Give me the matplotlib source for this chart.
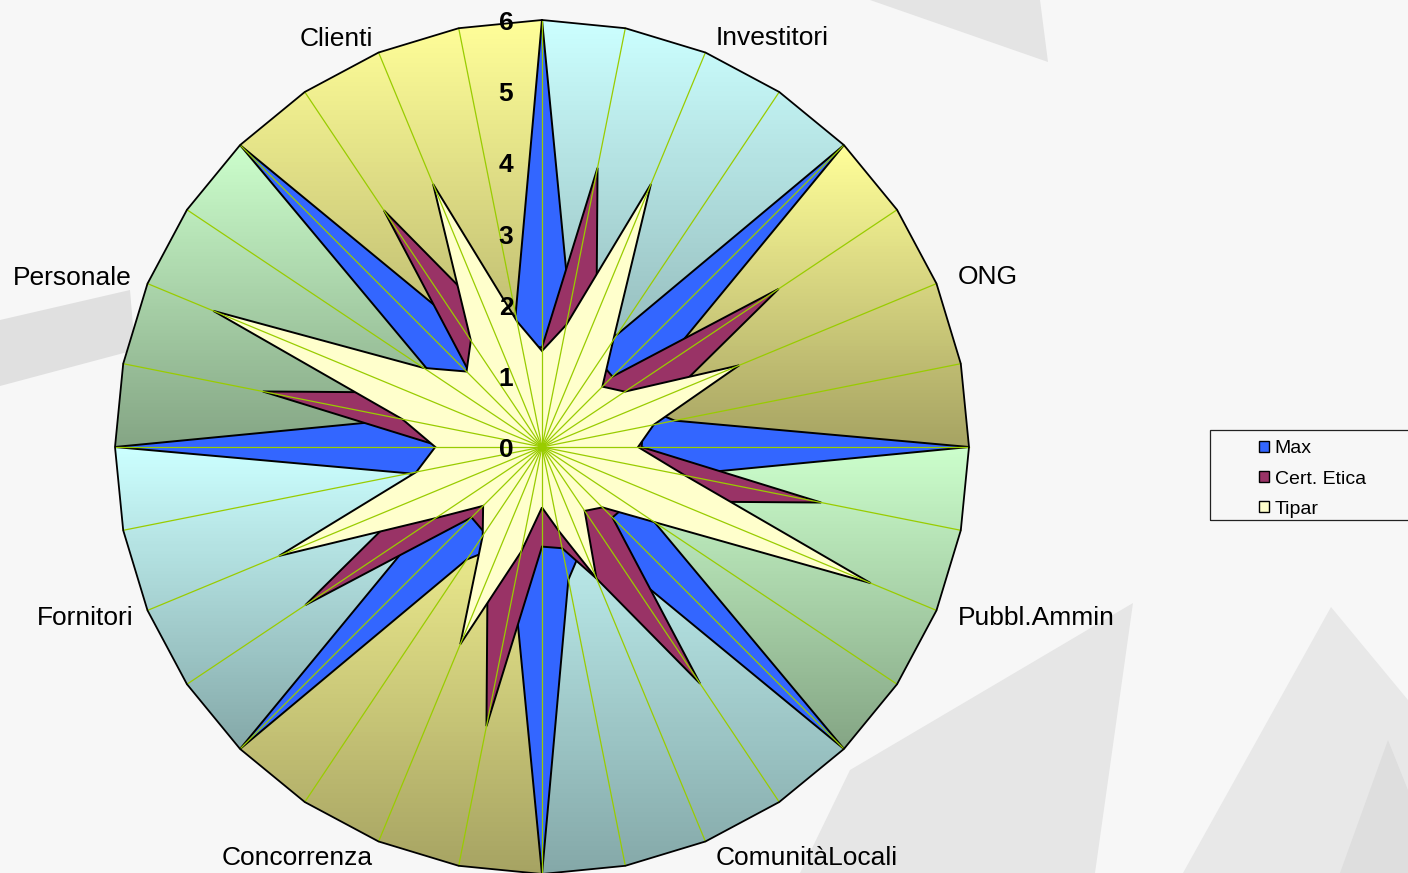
import numpy as np
import matplotlib.pyplot as plt
from matplotlib.patches import Polygon, Rectangle, Patch
from matplotlib.collections import PolyCollection
from matplotlib.colors import to_rgb

plt.rcParams['font.family'] = ['Liberation Sans', 'DejaVu Sans']

# 32 spokes, only every 4th one (from spoke 2) carries a stakeholder name
stakeholders = ['Investitori', 'ONG', 'Pubbl.Ammin', 'ComunitàLocali',
                'Concorrenza', 'Fornitori', 'Personale', 'Clienti']
categories = [''] * 32
for i, s in enumerate(stakeholders):
    categories[4 * i + 2] = s

max_vals = [6, 2.0, 1.5, 1.9, 6, 2.0, 1.5, 1.9,
            6, 2.0, 1.5, 1.9, 6, 2.0, 1.5, 1.9,
            6, 2.0, 1.5, 1.9, 6, 2.0, 1.5, 1.9,
            6, 2.0, 1.5, 1.9, 6, 2.0, 1.5, 1.9]
cert_vals = [1.4, 4, 2.0, 1.45, 1.4, 4, 2.0, 1.45,
             1.4, 4, 2.0, 1.45, 1.4, 4, 2.0, 1.45,
             1.4, 4, 2.0, 1.45, 1.4, 4, 2.0, 1.45,
             1.4, 4, 2.0, 1.45, 1.4, 4, 2.0, 1.45]
tipar_vals = [1.35, 1.75, 4, 1.8, 1.2, 1.4, 3, 1.6,
              1.35, 2.05, 5, 1.9, 1.2, 1.08, 2, 1.2,
              0.85, 1.5, 3, 1.5, 1.17, 1.8, 4, 1.8,
              1.5, 2.0, 5, 2.0, 1.5, 1.8, 4, 1.8]

series = [('Max', max_vals, '#3366FF'),
          ('Cert. Etica', cert_vals, '#993366'),
          ('Tipar', tipar_vals, '#FFFFCC')]

# background bands (value 6 over 4 spokes each) with vertical gradient
band_values = [6] * 8
band_kind = ['cyan', 'yellow', 'green', 'cyan', 'yellow', 'cyan', 'green', 'yellow']
gradients = {'cyan': ('#CCFFFF', '#84A8A8'),
             'yellow': ('#FFFF99', '#A6A262'),
             'green': ('#CCFFCC', '#84A484')}

fig = plt.figure(figsize=(14.08, 8.73), dpi=100, facecolor='#F7F7F7')

# slide background shapes (pixel coords from top-left)
def px(pts):
    return [(x / 1408, 1 - y / 873) for x, y in pts]

bg_shapes = [
    ([(870, 0), (1040, 0), (1048, 62)], '#E4E4E4'),
    ([(0, 320), (130, 290), (135, 350), (0, 386)], '#E0E0E0'),
    ([(800, 873), (850, 770), (1133, 603), (1095, 873)], '#E6E6E6'),
    ([(1183, 873), (1331, 607), (1408, 700), (1408, 873)], '#E8E8E8'),
    ([(1340, 873), (1388, 740), (1408, 790), (1408, 873)], '#DEDEDE'),
]
for pts, col in bg_shapes:
    fig.add_artist(Polygon(px(pts), closed=True, transform=fig.transFigure,
                           facecolor=col, edgecolor='none', zorder=-5))

ax = fig.add_axes([115 / 1408, -1 / 873, 854 / 1408, 854 / 873], projection='polar')
ax.set_theta_zero_location('N')
ax.set_theta_direction(-1)
ax.set_ylim(0, 6)
ax.patch.set_alpha(0)
ax.spines['polar'].set_visible(False)
ax.set_xticks([])
ax.set_yticks([])
ax.grid(False)

theta = np.arange(32) * 2 * np.pi / 32
th_c = np.append(theta, theta[0])

# gradient sectors
to_axes = ax.transData + ax.transAxes.inverted()
for g, kind in enumerate(band_kind):
    idx = [(4 * g + k) % 32 for k in range(5)]
    th = np.concatenate([[0], theta[idx]])
    rr = np.concatenate([[0], [band_values[g]] * 5])
    clip = ax.fill(th, rr, facecolor='none', edgecolor='none', zorder=1, clip_on=False)[0]
    xy = to_axes.transform(np.column_stack([th, rr]))
    x0, x1 = xy[:, 0].min(), xy[:, 0].max()
    y0, y1 = xy[:, 1].min(), xy[:, 1].max()
    top, bot = np.array(to_rgb(gradients[kind][0])), np.array(to_rgb(gradients[kind][1]))
    n = 90
    ys = np.linspace(y1, y0, n + 1)
    verts, cols = [], []
    for j in range(n):
        f = (j + 0.5) / n
        verts.append([(x0, ys[j]), (x1, ys[j]), (x1, ys[j + 1] - 0.002), (x0, ys[j + 1] - 0.002)])
        cols.append(top + (bot - top) * f)
    pc = PolyCollection(verts, facecolors=cols, edgecolors='none', linewidths=0,
                        transform=ax.transAxes, zorder=1)
    pc.set_clip_path(clip)
    ax.add_collection(pc, autolim=False)

# series
for z, (name, vals, col) in enumerate(series):
    ax.fill(th_c, np.append(vals, vals[0]), facecolor=col, edgecolor='black',
            linewidth=1.4, zorder=3 + z, clip_on=False)

# spokes and outline
for t in theta:
    ax.plot([t, t], [0, 6], color='#99CC00', linewidth=0.9, zorder=7, clip_on=False)
ax.plot([0], [0], 'o', color='#99CC00', markersize=5, zorder=7)
ax.plot(th_c, [6] * 33, color='black', linewidth=1.3, zorder=8, clip_on=False)

# value labels
for k in range(7):
    ax.annotate(str(k), xy=(0, k), xytext=(-36, -3), textcoords='offset pixels',
                ha='center', va='center', fontsize=19, fontweight='bold',
                zorder=9, annotation_clip=False)

# category labels
label_offsets = [(10, 15), (21, 7), (21, -8), (10, -17),
                 (-6, -17), (-14, -8), (-16, 6), (-6, 14)]
for i, name in enumerate(categories):
    if not name:
        continue
    dx, dy = label_offsets[i // 4]
    ax.annotate(name, xy=(theta[i], 6), xytext=(dx, dy), textcoords='offset pixels',
                ha='left' if dx > 0 else 'right', va='center', fontsize=19,
                zorder=9, annotation_clip=False)

# legend
fig.add_artist(Rectangle((1210 / 1408, 1 - 520 / 873), 215 / 1408, 90 / 873,
                         transform=fig.transFigure, fill=False, edgecolor='#222222',
                         linewidth=0.9))
handles = [Patch(facecolor=col, edgecolor='black', linewidth=1.0) for _, _, col in series]
fig.legend(handles, [s[0] for s in series], loc='center left',
           bbox_to_anchor=(1259 / 1408, 1 - 479 / 873), frameon=False, fontsize=14,
           handlelength=0.5, handleheight=0.5, handletextpad=0.3, labelspacing=0.68,
           borderpad=0, borderaxespad=0)

fig.savefig('out.png', dpi=100, facecolor=fig.get_facecolor())
